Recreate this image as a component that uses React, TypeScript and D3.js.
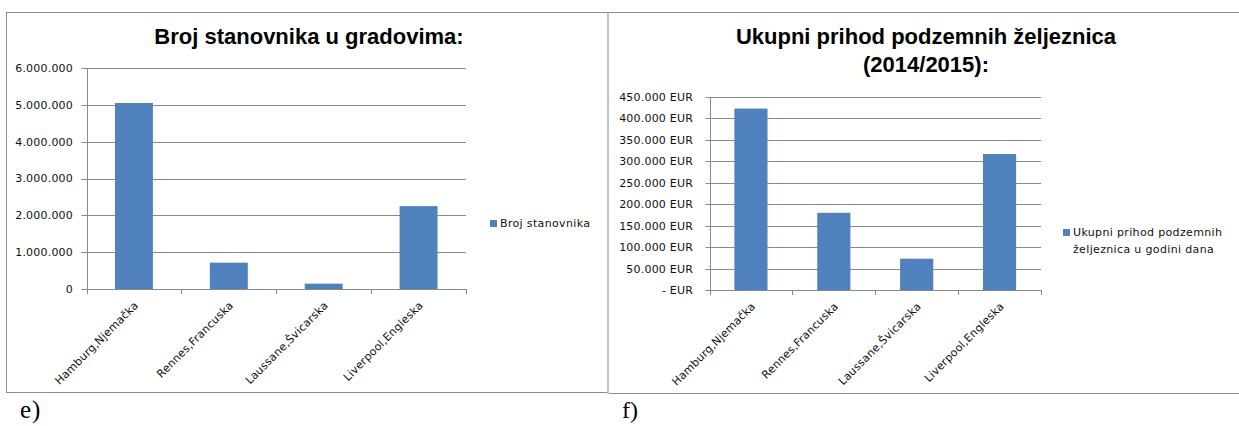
import React from "react";
import * as d3 from "d3";

const categories = ["Hamburg,Njemačka", "Rennes,Francuska", "Laussane,Švicarska", "Liverpool,Engleska"];
const populationValues = [5050000, 715000, 145000, 2250000];
const revenueValues = [423000, 180000, 73000, 317000];
const populationTicks = [0, 1000000, 2000000, 3000000, 4000000, 5000000, 6000000];
const revenueTicks = [0, 50000, 100000, 150000, 200000, 250000, 300000, 350000, 400000, 450000];
const leftTitle = ["Broj stanovnika u gradovima:"];
const rightTitle = ["Ukupni prihod podzemnih željeznica", "(2014/2015):"];
const leftLegend = ["Broj stanovnika"];
const rightLegend = ["Ukupni prihod podzemnih", "željeznica u godini dana"];

const locale = d3.formatLocale({ thousands: ".", grouping: [3], decimal: ",", currency: ["", ""] });
const fmt = locale.format(",d");

const BAR = "#4F81BD";
const GRID = "#8a8a8a";
const AXIS_FONT = "'DejaVu Sans', Verdana, sans-serif";

type ChartCfg = {
  values: number[];
  ticks: number[];
  max: number;
  x0: number; x1: number; yTop: number; yBottom: number;
  labelRight: number;
  tickLen: number;
  format: (v: number) => string;
  title: string[]; titleX: number; titleY: number;
  legend: string[]; legendX: number; legendY: number;
};

function Chart({ c }: { c: ChartCfg }) {
  const x = d3.scaleBand<string>().domain(categories).range([c.x0, c.x1]).paddingInner(0.6).paddingOuter(0.3);
  const y = d3.scaleLinear().domain([0, c.max]).range([c.yBottom, c.yTop]);
  const step = (c.x1 - c.x0) / categories.length;
  return (
    <g>
      {c.title.map((t, i) => (
        <text key={t} x={c.titleX} y={c.titleY + i * 28} textAnchor="middle" fontFamily="'Liberation Sans', Arial, sans-serif" fontWeight="bold" fontSize={22} fill="#000">{t}</text>
      ))}
      {c.ticks.map((t) => (
        <g key={t}>
          <line x1={c.x0 - c.tickLen} x2={c.x1} y1={Math.round(y(t)) + 0.5} y2={Math.round(y(t)) + 0.5} stroke={GRID} strokeWidth={1} />
          <text x={c.labelRight} y={y(t)} dy="0.36em" textAnchor="end" fontFamily={AXIS_FONT} fontSize={11} letterSpacing={0.2} fill="#111">{c.format(t)}</text>
        </g>
      ))}
      <line x1={Math.round(c.x0) + 0.5} x2={Math.round(c.x0) + 0.5} y1={c.yTop} y2={c.yBottom} stroke={GRID} />
      {d3.range(categories.length + 1).map((i) => (
        <line key={i} x1={Math.round(c.x0 + i * step) + 0.5} x2={Math.round(c.x0 + i * step) + 0.5} y1={c.yBottom} y2={c.yBottom + 5} stroke={GRID} />
      ))}
      {categories.map((cat, i) => (
        <rect key={cat} x={x(cat)} y={y(c.values[i])} width={x.bandwidth()} height={c.yBottom - y(c.values[i])} fill={BAR} />
      ))}
      {categories.map((cat) => {
        const cx = (x(cat) as number) + x.bandwidth() / 2;
        return (
          <text key={cat} transform={`translate(${cx + 5},${c.yBottom + 17}) rotate(-45)`} textAnchor="end" fontFamily={AXIS_FONT} fontSize={11} letterSpacing={0.2} fill="#111">{cat}</text>
        );
      })}
      <rect x={c.legendX} y={c.legendY - 7} width={7} height={7} fill={BAR} />
      {c.legend.map((t, i) => (
        <text key={t} x={c.legendX + 10} y={c.legendY + i * 17} fontFamily={AXIS_FONT} fontSize={11} letterSpacing={0.35} fill="#111">{t}</text>
      ))}
    </g>
  );
}

export default function App() {
  const left: ChartCfg = {
    values: populationValues, ticks: populationTicks, max: 6000000,
    x0: 86.5, x1: 466, yTop: 68, yBottom: 289,
    labelRight: 73, tickLen: 5,
    format: (v) => fmt(v),
    title: leftTitle, titleX: 309, titleY: 44,
    legend: leftLegend, legendX: 490, legendY: 227,
  };
  const right: ChartCfg = {
    values: revenueValues, ticks: revenueTicks, max: 450000,
    x0: 709.5, x1: 1041, yTop: 97, yBottom: 290,
    labelRight: 693, tickLen: 4,
    format: (v) => (v === 0 ? "- EUR" : fmt(v) + " EUR"),
    title: rightTitle, titleX: 926, titleY: 44,
    legend: rightLegend, legendX: 1063, legendY: 236,
  };
  return (
    <svg width={1239} height={426} style={{ position: "absolute", left: 0, top: 0, background: "#fff" }}>
      <rect x={0} y={0} width={1239} height={426} fill="#fff" />
      <line x1={6} x2={1239} y1={12.5} y2={12.5} stroke="#8c8c8c" />
      <line x1={6.5} x2={6.5} y1={12.5} y2={393} stroke="#8c8c8c" />
      <line x1={6} x2={608} y1={392.5} y2={392.5} stroke="#8c8c8c" />
      <line x1={608} x2={1239} y1={393.5} y2={393.5} stroke="#8c8c8c" />
      <line x1={608} x2={608} y1={13} y2={394} stroke="#c2c2c2" strokeWidth={2} />
      <Chart c={left} />
      <Chart c={right} />
      <text x={20} y={418} fontFamily="'Liberation Serif', 'Times New Roman', serif" fontSize={25} letterSpacing={1} fill="#000">e)</text>
      <text x={622} y={418} fontFamily="'Liberation Serif', 'Times New Roman', serif" fontSize={24} fill="#000">f)</text>
    </svg>
  );
}
